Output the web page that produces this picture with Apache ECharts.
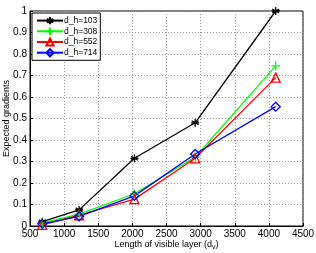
<!DOCTYPE html>
<html><head><meta charset="utf-8">
<script src="https://cdn.jsdelivr.net/npm/echarts@6/dist/echarts.min.js"></script>
<style>html,body{margin:0;padding:0;background:#fff}#c{width:316px;height:253px}</style>
</head><body><div id="c"></div>
<script>
var xValues = [680, 1220, 2030, 2920, 4100];
var seriesNames = ['d_h=103', 'd_h=308', 'd_h=552', 'd_h=714'];
var black103 = [0.02, 0.075, 0.315, 0.48, 1.0];
var green308 = [0.015, 0.055, 0.15, 0.32, 0.745];
var red552 = [0.005, 0.05, 0.125, 0.315, 0.69];
var blue714 = [0.01, 0.045, 0.14, 0.335, 0.555];
var xTicks = [500, 1000, 1500, 2000, 2500, 3000, 3500, 4000, 4500];
var yTicks = [0, 0.1, 0.2, 0.3, 0.4, 0.5, 0.6, 0.7, 0.8, 0.9, 1];

var star = 'path://M0,-10L0,10M-8.66,-5L8.66,5M-8.66,5L8.66,-5M-10,0L10,0';
var plus = 'path://M0,-10L0,10M-10,0L10,0';
function pairs(ys){ return xValues.map(function(x,i){return [x, ys[i]];}); }
function mk(name, ys, color, symbol, size){
  return {name:name, type:'line', data:pairs(ys), symbol:symbol, symbolSize:size,
    lineStyle:{color:color,width:1.3}, itemStyle:{color:'rgba(0,0,0,0)',borderColor:color,borderWidth:1.3},
    emphasis:{disabled:true}, animation:false};
}
var chart = echarts.init(document.getElementById('c'), null, {width:316, height:253});
var f = 'Liberation Sans, Arial, sans-serif';
chart.setOption({
  animation:false,
  grid:{left:30, top:11, width:273, height:215, show:true, borderColor:'#000', borderWidth:1, containLabel:false, outerBoundsMode:'none'},
  legend:{left:32, top:13, orient:'vertical', itemWidth:26, itemHeight:9, itemGap:1.5,
    padding:[3,3,3,4], borderColor:'#000', borderWidth:1, backgroundColor:'#fff',
    textStyle:{fontFamily:f, fontSize:8.5, color:'#000', padding:[0,0,0,-4]}, data:seriesNames},
  xAxis:{type:'value', min:500, max:4500, interval:500, nameMoveOverlap:false,
    axisLine:{show:true, lineStyle:{color:'#000'}}, axisTick:{inside:true, length:3, lineStyle:{color:'#000'}},
    axisLabel:{fontFamily:f, fontSize:10, color:'#000', margin:3, hideOverlap:false, formatter:function(v){return String(v);}},
    splitLine:{show:true, lineStyle:{color:'#999', type:[1,2], width:1}},
    name:'{a|Length of visible layer (d}{s|v}{a|)}', nameLocation:'middle', nameGap:12,
    nameTextStyle:{rich:{a:{fontFamily:f,fontSize:9,color:'#000'}, s:{fontFamily:f,fontSize:7,color:'#000',verticalAlign:'bottom',padding:[6,0,0,0]}}}},
  yAxis:{type:'value', min:0, max:1, interval:0.1, nameMoveOverlap:false,
    axisLine:{show:true, lineStyle:{color:'#000'}}, axisTick:{inside:true, length:3, lineStyle:{color:'#000'}},
    axisLabel:{fontFamily:f, fontSize:10, color:'#000', margin:3, hideOverlap:false, showMaxLabel:true, showMinLabel:true, formatter:function(v){return String(Math.round(v*10)/10);}},
    splitLine:{show:true, lineStyle:{color:'#999', type:[1,2], width:1}},
    name:'Expected gradients', nameLocation:'middle', nameGap:19,
    nameTextStyle:{fontFamily:f, fontSize:9, color:'#000'}},
  series:[
    mk(seriesNames[0], black103, '#000', star, 8),
    mk(seriesNames[1], green308, '#00ff00', plus, 9),
    mk(seriesNames[2], red552, '#ff0000', 'triangle', 9),
    mk(seriesNames[3], blue714, '#0000ff', 'diamond', 9)
  ]
});
</script></body></html>
